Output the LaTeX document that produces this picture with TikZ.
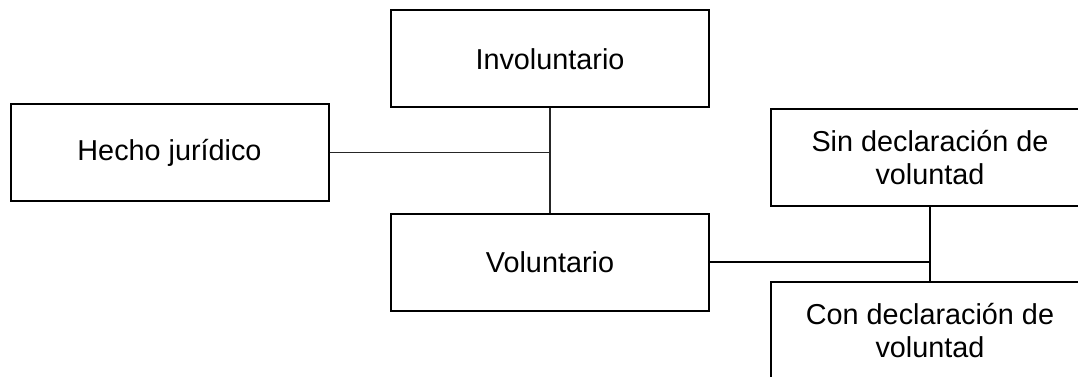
\documentclass[tikz,border=0pt]{standalone}
\usepackage{fontspec}
\setmainfont{Liberation Sans}
\usetikzlibrary{positioning}
\tikzset{box/.style={draw=black,line width=2pt,minimum width=318pt,minimum height=97pt,
    inner sep=0pt,align=center,font=\fontsize{28.8}{33}\selectfont}}
\tikzset{thin link/.style={line width=1.2pt,draw=black!85}}
\tikzset{thick link/.style={line width=2pt}}

\begin{document}
\begin{tikzpicture}[x=1pt,y=-1pt]
        \useasboundingbox (0,0) rectangle (1078,377);

        \node[box] (hec) at (169.5,152.5) {Hecho jurídico};
        \node[box] (inv) at (550,59) {Involuntario};
        \node[box] (vol) at (550,262) {Voluntario};
        \node[box] (sin) at (930,157.5) {Sin declaración de\\voluntad};
        \node[box] (con) at (930,330.5) {Con declaración de\\voluntad};

        \draw[thin link] (inv) -- (vol);
        \draw[thin link] (hec) -- (hec -| inv);
        \draw[thick link] (vol) -- (vol -| sin);
        \draw[thick link] (sin) -- (con);
\end{tikzpicture}
\end{document}
